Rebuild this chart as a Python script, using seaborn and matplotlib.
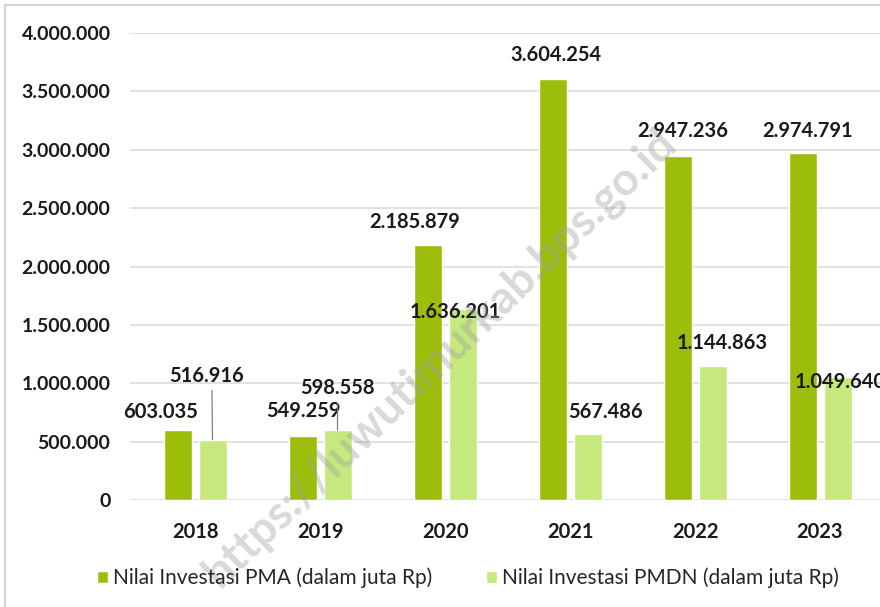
import matplotlib
matplotlib.use("Agg")
import matplotlib.pyplot as plt
import seaborn as sns
import pandas as pd
from matplotlib.patches import Rectangle
from matplotlib.ticker import FuncFormatter

# Data
years = ["2018", "2019", "2020", "2021", "2022", "2023"]
pma = [603035, 549259, 2185879, 3604254, 2947236, 2974791]
pmdn = [516916, 598558, 1636201, 567486, 1144863, 1049640]
series_names = ["Nilai Investasi PMA (dalam juta Rp)", "Nilai Investasi PMDN (dalam juta Rp)"]
yticks = [0, 500000, 1000000, 1500000, 2000000, 2500000, 3000000, 3500000, 4000000]

colors = ["#9cbe0a", "#c6e97e"]

df = pd.DataFrame({
    "Tahun": years * 2,
    "Nilai": pma + pmdn,
    "Seri": [series_names[0]] * len(years) + [series_names[1]] * len(years),
})

sns.set_theme(style="white")
plt.rcParams["font.family"] = ["Lato", "DejaVu Sans"]

fig = plt.figure(figsize=(8.8, 6.07), dpi=100)
ax = fig.add_axes([130 / 880, 107 / 607, 750 / 880, 467 / 607])

sns.barplot(data=df, x="Tahun", y="Nilai", hue="Seri", palette=colors,
            width=0.56, gap=0.2, saturation=1, ax=ax, legend=True)

ax.set_xlim(-0.52, 5.48)
ax.set_ylim(0, 4000000)
ax.set_yticks(yticks)
ax.yaxis.set_major_formatter(FuncFormatter(lambda v, p: f"{v:,.0f}".replace(",", ".")))
ax.yaxis.grid(True, color="#d9d9d9", linewidth=1.1)
ax.set_axisbelow(True)
for s in ax.spines.values():
    s.set_visible(False)
ax.tick_params(axis="both", length=0, colors="#1a1a1a")
ax.tick_params(axis="y", pad=14, labelsize=14)
ax.tick_params(axis="x", pad=16, labelsize=14.5)
for lbl in ax.get_xticklabels() + ax.get_yticklabels():
    lbl.set_fontweight("bold")
ax.set_xlabel("")
ax.set_ylabel("")

# data labels (offsets in pixels: right, up)
offsets_pma = [(-17, 18), (1, 25), (-13, 23), (3, 24), (5, 25), (5, 22)]
offsets_pmdn = [(-6, 64), (0, 42), (-7, -3), (18, 22), (10, 23), (3, -5)]
leader = [True, True, False, False, False, False]
px2pt = 72 / 100

def fmt(v):
    return f"{v:,.0f}".replace(",", ".")

for i in range(len(years)):
    ax.annotate(fmt(pma[i]), xy=(i - 0.14, pma[i]),
                xytext=(offsets_pma[i][0] * px2pt, offsets_pma[i][1] * px2pt),
                textcoords="offset points", ha="center", va="center",
                fontsize=14.5, fontweight="bold", color="#1a1a1a", annotation_clip=False)
    arrow = None
    if leader[i]:
        arrow = dict(arrowstyle="-", color="#7f7f7f", lw=0.9, shrinkA=1, shrinkB=0,
                     relpos=(0.5 - offsets_pmdn[i][0] / 85, 0.5))
    ax.annotate(fmt(pmdn[i]), xy=(i + 0.14, pmdn[i]),
                xytext=(offsets_pmdn[i][0] * px2pt, offsets_pmdn[i][1] * px2pt),
                textcoords="offset points", ha="center", va="center",
                fontsize=14.5, fontweight="bold", color="#1a1a1a",
                arrowprops=arrow, annotation_clip=False)

# legend at bottom
handles, labels = ax.get_legend_handles_labels()
ax.legend_.remove()
fig.legend(handles, labels, loc="center", bbox_to_anchor=(0.532, 0.048), ncol=2,
           frameon=False, fontsize=15, handlelength=0.5, handleheight=0.5,
           handletextpad=0.25, columnspacing=2.6)

# frame line around the figure
fig.patches.append(Rectangle((5 / 880, -0.05), 1.2, 1.05 - 5 / 607, transform=fig.transFigure,
                             fill=False, edgecolor="#d4d4d4", linewidth=1.5))

# watermark
fig.text(0.5, 0.41, "https://luwutimurkab.bps.go.id", rotation=44, fontsize=33,
         fontweight="bold", color="#a0a0a0", alpha=0.4, ha="center", va="center",
         transform=fig.transFigure)

fig.savefig("out.png", dpi=100)
